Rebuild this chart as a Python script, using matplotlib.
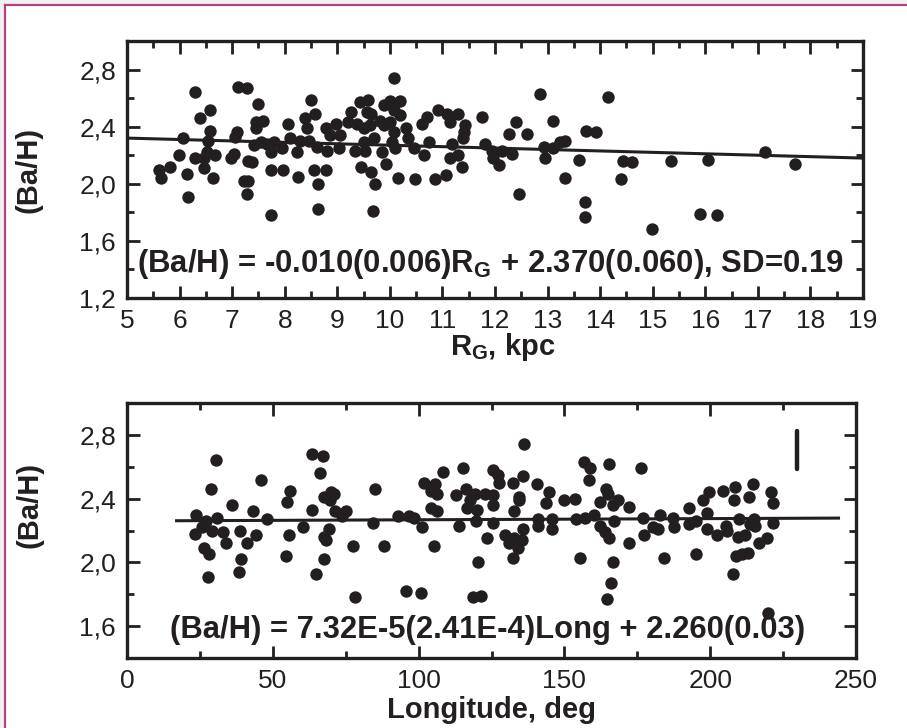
import matplotlib
matplotlib.use('Agg')
import matplotlib.pyplot as plt
from matplotlib.ticker import FixedLocator, FuncFormatter
from matplotlib.patches import Rectangle
from matplotlib.lines import Line2D

plt.rcParams['font.family'] = ['Liberation Sans', 'DejaVu Sans']
plt.rcParams['mathtext.fontset'] = 'custom'
plt.rcParams['mathtext.rm'] = 'Liberation Sans:bold'
plt.rcParams['mathtext.bf'] = 'Liberation Sans:bold'
plt.rcParams['mathtext.it'] = 'Liberation Sans:bold'

# ---------------- data ----------------
rg = [6.30, 7.12, 7.28, 7.49, 8.50, 8.57, 6.57, 6.38, 6.57, 6.07, 6.54, 5.98, 5.60, 5.65, 5.82,
      6.14, 6.16, 6.30, 6.46, 6.52, 6.68, 6.47, 6.64, 7.09, 7.06, 6.97, 7.03, 7.23, 7.31, 7.28,
      7.46, 7.59, 7.46, 7.31, 7.38, 7.41, 7.54, 7.66, 7.79, 7.74, 7.73, 7.74, 7.97, 7.95, 8.06,
      8.11, 8.30, 8.23, 8.25, 8.39, 8.42, 8.47, 8.61, 8.56, 8.63, 8.63, 8.79, 8.79, 8.80, 8.86,
      8.98, 9.06, 9.03,
      10.07, 12.86, 9.43, 9.59, 9.27, 9.21, 9.37, 9.50, 9.56, 9.65, 9.62, 9.50, 9.34, 9.53, 9.69,
      9.46, 9.64, 9.72, 9.67, 9.85, 9.93, 9.88, 10.00, 10.19, 10.07, 10.19, 9.81, 9.88, 10.00,
      10.07, 10.04, 10.10, 10.31, 10.35, 10.16, 10.48, 10.45, 10.61, 10.70, 10.64, 10.75, 10.86,
      10.92, 11.07, 11.08, 11.15, 11.30, 11.18, 11.15, 11.30, 11.37, 11.43, 11.41, 11.39, 11.75,
      11.81, 11.94, 11.96, 12.08, 12.13, 12.32, 12.27, 12.40, 12.60, 12.46, 12.93, 12.95, 13.10,
      13.11,
      14.14, 13.74, 13.93, 13.24, 13.33, 13.60, 13.33, 13.71, 13.71, 14.44, 14.60, 14.40, 15.35,
      14.99, 15.90, 16.22, 16.05, 17.14, 17.71]
ba_rg = [2.64, 2.68, 2.67, 2.56, 2.59, 2.49, 2.52, 2.46, 2.37, 2.32, 2.30, 2.20, 2.10, 2.04, 2.12,
         2.07, 1.91, 2.18, 2.18, 2.22, 2.20, 2.11, 2.04, 2.36, 2.33, 2.18, 2.21, 2.02, 2.02, 1.93,
         2.43, 2.44, 2.39, 2.16, 2.15, 2.27, 2.29, 2.28, 2.29, 2.22, 2.10, 1.78, 2.10, 2.25, 2.42,
         2.32, 2.30, 2.22, 2.05, 2.46, 2.39, 2.30, 2.26, 2.10, 2.00, 1.82, 2.10, 2.39, 2.23, 2.34,
         2.42, 2.34, 2.25,
         2.74, 2.63, 2.57, 2.59, 2.50, 2.43, 2.42, 2.39, 2.50, 2.49, 2.41, 2.29, 2.23, 2.23, 2.32,
         2.12, 2.08, 2.00, 1.81, 2.22, 2.14, 2.55, 2.58, 2.58, 2.52, 2.48, 2.44, 2.41, 2.43,
         2.36, 2.29, 2.25, 2.39, 2.32, 2.04, 2.03, 2.25, 2.42, 2.47, 2.20, 2.29, 2.03,
         2.52, 2.06, 2.49, 2.43, 2.49, 2.28, 2.18, 2.20, 2.12, 2.41, 2.36, 2.32, 2.47,
         2.28, 2.23, 2.18, 2.13, 2.23, 2.21, 2.35, 2.43, 2.35, 1.93, 2.26, 2.18, 2.44,
         2.25,
         2.61, 2.37, 2.36, 2.29, 2.30, 2.17, 2.04, 1.87, 1.77, 2.16, 2.15, 2.03, 2.16,
         1.68, 1.79, 1.78, 2.17, 2.22, 2.14]

lon = [30.6, 28.8, 23.8, 23.4, 27.2, 25.7, 29.1, 30.9, 32.9, 34.1, 26.5, 28.0, 27.8, 36.0, 38.9,
       41.2, 39.1, 38.3, 43.2, 44.4, 46.0, 48.0, 54.9, 55.8, 55.4, 54.5, 60.4, 63.4, 63.4, 67.2,
       66.3, 67.4, 70.0, 70.9, 69.7, 71.4, 73.7, 75.2, 69.2, 67.7, 68.4, 67.4, 64.8, 77.5, 78.3,
       84.4, 85.2,
       136.1, 88.1, 93.0, 96.8, 98.4, 101.0, 95.7, 100.7, 101.8, 105.6, 104.1, 106.2, 108.5, 104.1,
       106.2, 105.3, 112.8, 115.1, 116.3, 116.5, 114.0, 119.3, 117.6, 119.9, 122.8, 125.4, 125.4,
       119.7, 125.4, 123.3, 120.5, 118.5, 121.3, 125.4, 127.3, 127.7, 132.5, 135.7, 134.5, 134.5,
       132.7, 129.6, 131.1, 132.7, 135.7, 135.3, 134.2, 132.5, 140.5, 144.8, 143.7, 141.1, 141.1,
       145.6, 145.6, 149.9, 153.6, 154.0, 155.3, 156.7, 158.8, 158.5, 157.1, 160.1, 162.2, 164.3,
       165.4, 165.1, 166.5, 162.2, 163.9, 165.4, 166.5, 165.9, 164.7, 168.5, 167.0,
       176.1, 172.2, 172.2, 177.0, 177.3, 180.5, 182.2, 182.7, 184.1, 187.3, 187.5, 192.8, 192.8,
       195.3, 197.4, 199.7, 199.0, 199.0, 195.3, 202.4, 204.5, 205.4, 205.6, 208.5, 208.1, 210.0,
       209.6, 211.9, 208.8, 210.8, 213.0, 207.9, 214.8, 213.4, 215.0, 215.3, 213.6, 216.8, 219.6,
       221.0, 221.4, 221.6, 219.9]
ba_lon = [2.64, 2.46, 2.30, 2.18, 2.26, 2.22, 2.20, 2.28, 2.19, 2.12, 2.09, 2.05, 1.91, 2.36, 2.20,
          2.12, 2.02, 1.94, 2.32, 2.17, 2.52, 2.27, 2.38, 2.45, 2.17, 2.04, 2.22, 2.33, 2.68, 2.67,
          2.56, 2.41, 2.44, 2.43, 2.39, 2.32, 2.29, 2.32, 2.21, 2.16, 2.14, 2.02, 1.93, 2.10, 1.78,
          2.25, 2.46,
          2.74, 2.10, 2.29, 2.29, 2.28, 2.22, 1.82, 1.81, 2.50, 2.49, 2.45, 2.43, 2.57, 2.34,
          2.32, 2.10, 2.42, 2.59, 2.46, 2.34, 2.23, 2.43, 2.39, 2.33, 2.43, 2.42, 2.36,
          2.26, 2.25, 2.15, 2.00, 1.78, 1.79, 2.58, 2.55, 2.50, 2.50, 2.54, 2.41, 2.39,
          2.32, 2.17, 2.12, 2.15, 2.21, 2.14, 2.09, 2.03, 2.49, 2.44, 2.37, 2.27, 2.23,
          2.27, 2.21, 2.39, 2.40, 2.27, 2.03, 2.63, 2.59, 2.52, 2.28, 2.30, 2.38, 2.46,
          2.62, 2.43, 2.36, 2.23, 2.19, 2.15, 2.00, 1.87, 1.77, 2.39, 2.26,
          2.59, 2.35, 2.12, 2.28, 2.17, 2.22, 2.21, 2.30, 2.03, 2.28, 2.22, 2.34, 2.24,
          2.26, 2.39, 2.44, 2.31, 2.21, 2.05, 2.17, 2.45, 2.23, 2.20, 2.47, 2.39, 2.27,
          2.16, 2.17, 2.04, 2.05, 2.06, 1.93, 2.49, 2.41, 2.27, 2.23, 2.24, 2.12, 2.15,
          2.44, 2.37, 2.25, 1.68]

fit_rg_slope, fit_rg_icpt = -0.010, 2.370
fit_rg_range = [5.0, 19.0]
fit_lon_slope, fit_lon_icpt = 7.32e-5, 2.260
fit_lon_range = [17.0, 244.0]
errbar_x, errbar_y, errbar_half = 229.7, 2.705, 0.12

eq_top = r"(Ba/H) = -0.010(0.006)R$_{\mathrm{G}}$ + 2.370(0.060), SD=0.19"
eq_bot = "(Ba/H) = 7.32E-5(2.41E-4)Long + 2.260(0.03)"

# ---------------- figure ----------------
W, H = 907, 728
ink = '#231f20'
fig = plt.figure(figsize=(W / 100, H / 100), dpi=100, facecolor='#eef1f2')
bg = Rectangle((5 / W, 0), 1, (H - 5) / H, transform=fig.transFigure,
               facecolor='white', edgecolor='none', zorder=-10)
fig.add_artist(bg)
border = '#b8407f'
fig.add_artist(Line2D([5 / W, 5 / W], [0, (H - 5) / H], color=border, lw=1.6,
                      transform=fig.transFigure, zorder=-5))
fig.add_artist(Line2D([5 / W, 1], [(H - 5) / H, (H - 5) / H], color=border, lw=1.6,
                      transform=fig.transFigure, zorder=-5))

ax1 = fig.add_axes([127 / W, (H - 298) / H, 736 / W, 257 / H])
ax2 = fig.add_axes([127 / W, (H - 658) / H, 729 / W, 255 / H])

comma = FuncFormatter(lambda v, p: f"{v:.1f}".replace('.', ','))
intf = FuncFormatter(lambda v, p: f"{v:.0f}")


def style(ax):
    for s in ax.spines.values():
        s.set_linewidth(2.4)
        s.set_color(ink)
    ax.tick_params(which='both', direction='in', top=True, right=True, color=ink,
                   labelcolor=ink, labelsize=19, width=2.0)
    ax.tick_params(which='major', length=9)
    ax.tick_params(which='minor', length=5)
    ax.tick_params(axis='y', pad=8)
    ax.tick_params(axis='x', pad=8)
    ax.set_facecolor('white')


# top panel
ax1.scatter(rg, ba_rg, s=80, color=ink, linewidths=0, zorder=3)
ax1.plot(fit_rg_range, [fit_rg_slope * x + fit_rg_icpt for x in fit_rg_range],
         color=ink, lw=2.2, zorder=2)
ax1.set_xlim(5, 19)
ax1.set_ylim(1.2, 3.0)
ax1.xaxis.set_major_locator(FixedLocator(list(range(5, 20))))
ax1.xaxis.set_minor_locator(FixedLocator([x + 0.5 for x in range(5, 19)]))
ax1.yaxis.set_major_locator(FixedLocator([1.2, 1.6, 2.0, 2.4, 2.8]))
ax1.yaxis.set_minor_locator(FixedLocator([1.4, 1.8, 2.2, 2.6]))
ax1.yaxis.set_major_formatter(comma)
ax1.xaxis.set_major_formatter(intf)
style(ax1)
ax1.text(5.19, 1.382, eq_top, fontsize=22.4, fontweight='bold', color=ink,
         ha='left', va='baseline', zorder=4)
ax1.set_xlabel(r"R$_{\mathrm{G}}$, kpc", fontsize=21, fontweight='bold', color=ink)
ax1.set_ylabel("(Ba/H)", fontsize=21, fontweight='bold', color=ink)
ax1.xaxis.set_label_coords(0.51, -0.13)
ax1.yaxis.set_label_coords(-0.115, 0.5)

# bottom panel
ax2.scatter(lon, ba_lon, s=80, color=ink, linewidths=0, zorder=3)
ax2.plot(fit_lon_range, [fit_lon_slope * x + fit_lon_icpt for x in fit_lon_range],
         color=ink, lw=2.2, zorder=2)
ax2.plot([errbar_x, errbar_x], [errbar_y - errbar_half, errbar_y + errbar_half],
         color=ink, lw=3.2, solid_capstyle='round', zorder=3)
ax2.set_xlim(0, 250)
ax2.set_ylim(1.4, 3.0)
ax2.xaxis.set_major_locator(FixedLocator([0, 50, 100, 150, 200, 250]))
ax2.xaxis.set_minor_locator(FixedLocator([25, 75, 125, 175, 225]))
ax2.yaxis.set_major_locator(FixedLocator([1.6, 2.0, 2.4, 2.8]))
ax2.yaxis.set_minor_locator(FixedLocator([1.8, 2.2, 2.6]))
ax2.yaxis.set_major_formatter(comma)
ax2.xaxis.set_major_formatter(intf)
style(ax2)
ax2.text(14.7, 1.525, eq_bot, fontsize=22.3, fontweight='bold', color=ink,
         ha='left', va='baseline', zorder=4)
ax2.set_xlabel("Longitude, deg", fontsize=21, fontweight='bold', color=ink)
ax2.set_ylabel("(Ba/H)", fontsize=21, fontweight='bold', color=ink)
ax2.xaxis.set_label_coords(0.5, -0.15)
ax2.yaxis.set_label_coords(-0.115, 0.6)

fig.savefig('out.png', dpi=100, facecolor=fig.get_facecolor())
